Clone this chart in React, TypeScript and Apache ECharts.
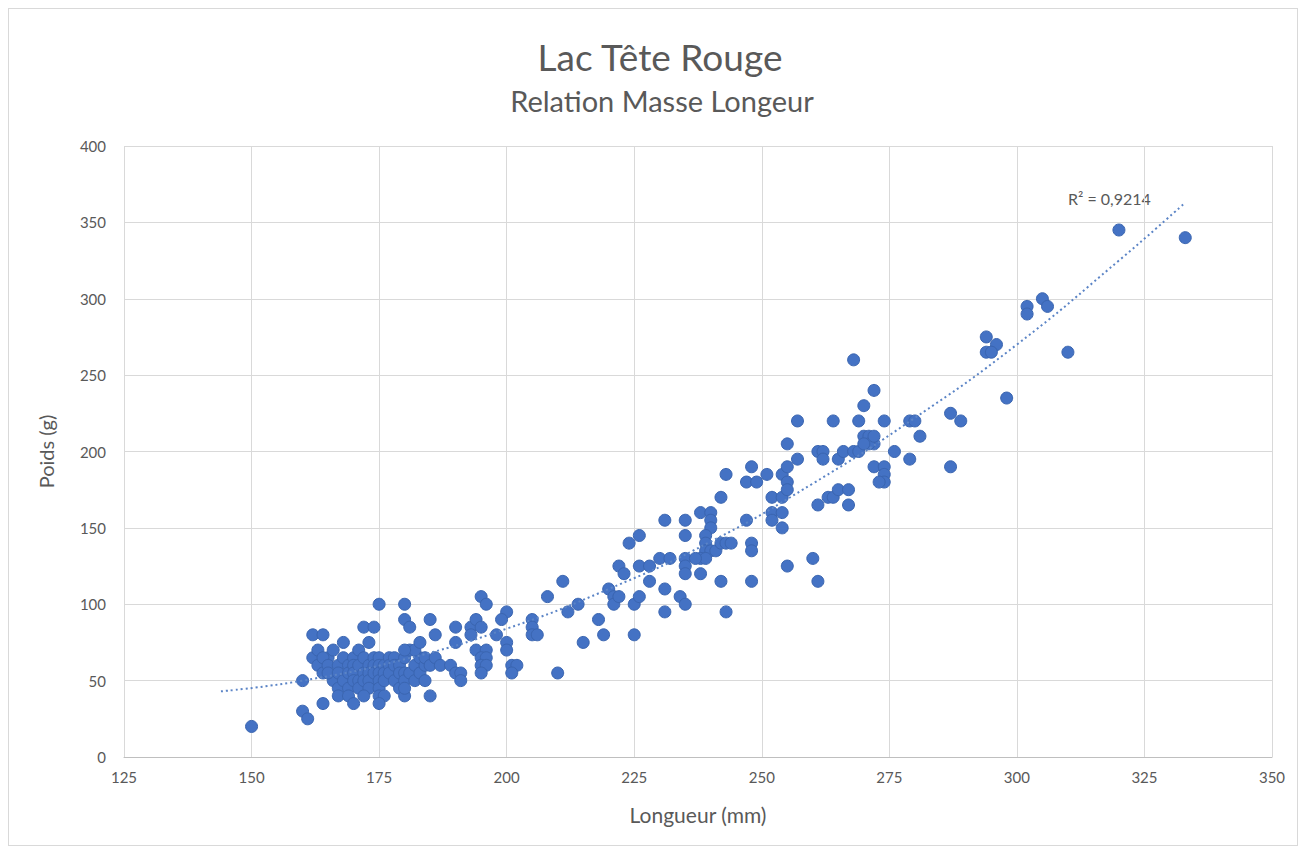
import React, { useEffect, useRef } from "react";
import * as echarts from "echarts";

const titleText = "Lac Tête Rouge";
const subtitleText = "Relation Masse Longeur";
const xAxisName = "Longueur (mm)";
const yAxisName = "Poids (g)";
const r2Label = "R² = 0,9214";

const xTicks = [125, 150, 175, 200, 225, 250, 275, 300, 325, 350];
const yTicks = [0, 50, 100, 150, 200, 250, 300, 350, 400];

// Longueur (mm) of each fish
const lengthMm = [
  150, 160, 160, 161, 162, 164, 162, 163, 164, 165, 166,
  163, 164, 164, 165, 165, 166, 167, 167, 167, 168, 168, 169, 169, 169,
  170, 170, 170, 170, 171, 171, 171, 171, 172, 172, 172, 173, 173, 173, 173,
  174, 174, 174, 175, 175, 175, 175, 175, 176, 176, 176, 177, 177, 177,
  178, 178, 178, 179, 179, 179, 180, 180, 180, 181, 181, 182, 182, 183, 183, 184,
  175, 180, 180, 181, 172, 174, 168, 173, 167, 169, 170, 172, 175, 176, 175, 180,
  180, 182, 180, 183, 184, 185, 186, 187, 189, 190, 191, 191, 184, 185, 185, 186,
  190, 193, 193, 194, 195, 198, 190, 200, 200, 194, 196, 195, 196, 195, 196, 195,
  201, 202, 201, 195, 196, 200, 199, 205, 205, 205, 206, 212, 214, 211, 208, 210, 215,
  218, 219, 220, 221, 221, 222, 222, 223, 224, 226, 226, 228, 228, 225, 226, 225,
  231, 230, 232, 231, 231, 235, 235, 235, 235, 235, 234, 235, 238,
  238, 240, 240, 240, 239, 239, 239, 240, 241, 242, 243, 244, 238, 239, 237, 242, 243, 243, 242,
  247, 247, 248, 248, 248, 248, 249, 251, 252, 254, 252, 252, 254, 254, 254, 255, 255, 255, 255, 255,
  257, 257, 260, 261,
  261, 262, 262, 265, 266, 268, 269, 261, 263, 264, 265, 267, 267, 264, 268, 272, 270, 269,
  274, 279, 280, 281, 270, 271, 272, 271, 270, 272, 276, 279, 272, 274, 274, 274, 273, 287, 289, 287,
  294, 296, 294, 295, 298, 302, 302, 305, 306, 310, 320, 333,
];

// Poids (g) of each fish, same order
const massG = [
  20, 50, 30, 25, 80, 80, 65, 70, 35, 65, 50,
  60, 65, 55, 60, 55, 70, 60, 55, 45, 65, 50, 60, 55, 45,
  65, 60, 55, 50, 70, 60, 50, 45, 65, 55, 50, 60, 55, 50, 45,
  65, 60, 55, 65, 60, 55, 50, 45, 60, 55, 50, 65, 60, 55,
  65, 60, 50, 60, 55, 45, 65, 55, 50, 70, 55, 60, 50, 65, 55, 60,
  100, 100, 90, 85, 85, 85, 75, 75, 40, 40, 35, 40, 40, 40, 35, 40,
  45, 70, 70, 75, 65, 60, 65, 60, 60, 55, 55, 50, 50, 40, 90, 80,
  85, 85, 80, 90, 85, 80, 75, 75, 70, 70, 70, 65, 65, 60, 60, 55,
  60, 60, 55, 105, 100, 95, 90, 90, 85, 80, 80, 95, 100, 115, 105, 55, 75,
  90, 80, 110, 105, 100, 105, 125, 120, 140, 145, 125, 125, 115, 100, 105, 80,
  155, 130, 130, 110, 95, 155, 145, 130, 125, 120, 105, 100, 120,
  160, 160, 155, 150, 145, 140, 135, 135, 135, 140, 140, 140, 130, 130, 130, 170, 185, 95, 115,
  155, 180, 190, 140, 135, 115, 180, 185, 170, 170, 160, 155, 160, 150, 185, 190, 205, 180, 175, 125,
  220, 195, 130, 115,
  200, 200, 195, 195, 200, 200, 200, 165, 170, 170, 175, 175, 165, 220, 260, 240, 230, 220,
  220, 220, 220, 210, 210, 210, 205, 205, 205, 210, 200, 195, 190, 190, 185, 180, 180, 225, 220, 190,
  275, 270, 265, 265, 235, 295, 290, 300, 295, 265, 345, 340,
];

// Trendline (polynomial)
const trendX = [144, 160, 180, 200, 220, 240, 260, 280, 300, 320, 333];
const trendY = [43, 50, 64, 84, 110, 141, 179, 222, 270, 325, 363];

const FONT = "Lato";
const TEXT = "#595959";

export default function App() {
  const ref = useRef<HTMLDivElement>(null);
  useEffect(() => {
    if (!ref.current) return;
    const chart = echarts.init(ref.current, undefined, { renderer: "svg" });
    const points = lengthMm.map((x, i) => [x, massG[i]]);
    const trend = trendX.map((x, i) => [x, trendY[i]]);
    chart.setOption({
      animation: false,
      backgroundColor: "#ffffff",
      textStyle: { fontFamily: FONT },
      title: [
        {
          text: titleText,
          left: 646,
          top: 24,
          textAlign: "center",
          textStyle: { fontFamily: FONT, fontSize: 37, fontWeight: "normal", color: TEXT },
        },
        {
          text: subtitleText,
          left: 648,
          top: 72,
          textAlign: "center",
          textStyle: { fontFamily: FONT, fontSize: 29, fontWeight: "normal", color: TEXT },
        },
      ],
      grid: { left: 115, right: 25, top: 137, bottom: 88, containLabel: false },
      xAxis: {
        type: "value",
        min: xTicks[0],
        max: xTicks[xTicks.length - 1],
        interval: 25,
        name: xAxisName,
        nameLocation: "middle",
        nameGap: 47,
        nameTextStyle: { fontFamily: FONT, fontSize: 21, color: TEXT },
        axisLine: { show: true, lineStyle: { color: "#bfbfbf", width: 1 } },
        axisTick: { show: false },
        axisLabel: { margin: 12, fontFamily: FONT, fontSize: 15, color: TEXT },
        splitLine: { show: true, lineStyle: { color: "#d9d9d9", width: 1 } },
      },
      yAxis: {
        type: "value",
        min: yTicks[0],
        max: yTicks[yTicks.length - 1],
        interval: 50,
        name: yAxisName,
        nameLocation: "middle",
        nameGap: 68,
        nameTextStyle: { fontFamily: FONT, fontSize: 20, color: TEXT },
        axisLine: { show: false },
        axisTick: { show: false },
        axisLabel: { margin: 18, fontFamily: FONT, fontSize: 15, color: TEXT },
        splitLine: { show: true, lineStyle: { color: "#d9d9d9", width: 1 } },
      },
      series: [
        {
          type: "scatter",
          data: points,
          symbol: "circle",
          symbolSize: 12,
          itemStyle: { color: "#4472C4", borderColor: "#3A65B0", borderWidth: 1, opacity: 1 },
          z: 2,
        },
        {
          type: "line",
          data: trend,
          smooth: true,
          showSymbol: false,
          symbol: "none",
          lineStyle: { color: "#5B84C6", width: 2, type: [2, 3] },
          z: 3,
        },
      ],
      graphic: [
        {
          type: "text",
          left: 1059,
          top: 181,
          style: { text: r2Label, fontFamily: FONT, fontSize: 16, fill: TEXT },
        },
      ],
    });
    return () => chart.dispose();
  }, []);
  return (
    <div
      style={{
        width: 1290,
        height: 838,
        boxSizing: "border-box",
        border: "1px solid #d9d9d9",
        background: "#fff",
      }}
    >
      <div ref={ref} style={{ width: 1288, height: 836 }} />
    </div>
  );
}
